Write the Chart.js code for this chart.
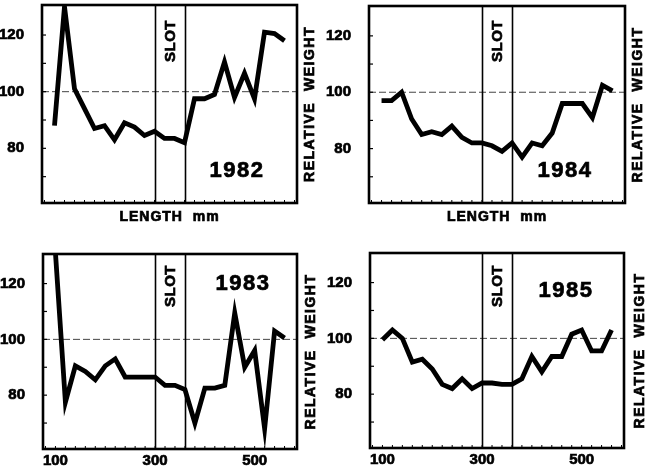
<!DOCTYPE html>
<html>
<head>
<meta charset="utf-8">
<title>Relative weight by length</title>
<script src="https://cdn.jsdelivr.net/npm/chart.js@4.4.1/dist/chart.umd.min.js"></script>
<style>
  html, body { margin: 0; padding: 0; background: #fff; }
  #page { position: relative; width: 647px; height: 468px; overflow: hidden; }
  .panel { position: absolute; }
</style>
</head>
<body>
<div id="page">
  <div class="panel" style="left:0;top:0;width:323px;height:232px"><canvas id="c1982"></canvas></div>
  <div class="panel" style="left:323px;top:0;width:324px;height:232px"><canvas id="c1984"></canvas></div>
  <div class="panel" style="left:0;top:234px;width:323px;height:234px"><canvas id="c1983"></canvas></div>
  <div class="panel" style="left:323px;top:234px;width:324px;height:234px"><canvas id="c1985"></canvas></div>
</div>
<script>
// Length classes (mm), one point every 20 mm
const lengths = [100, 120, 140, 160, 180, 200, 220, 240, 260, 280, 300, 320,
                 340, 360, 380, 400, 420, 440, 460, 480, 500, 520, 540, 560];

// Relative weight per length class
const weight1982 = [88, 130, 101, 94, 87, 88, 83, 89, 87.5, 84.5, 86, 83.5,
                    83.5, 82, 97.5, 97.5, 99, 110.5, 98, 106.5, 97.5, 121, 120.5, 118];
const weight1984 = [97, 97, 100, 90.5, 85, 86, 85, 88, 84, 82, 82, 81,
                    79, 82, 77, 82, 81, 85.5, 96, 96, 96, 91, 102.5, 100.5];
const weight1983 = [131, 77.5, 90.5, 88.5, 85.5, 90.5, 93, 86.5, 86.5, 86.5, 86.5, 83.5,
                    83.5, 82, 70, 82.5, 82.5, 83.5, 109.5, 90, 96, 68, 103, 100.5];
const weight1985 = [99.5, 103, 100, 91.5, 92.5, 89, 83.5, 82, 85.5, 82, 84, 84,
                    83.5, 83.5, 85.5, 93.5, 88, 93.5, 93.5, 101.5, 103, 95.5, 95.5, 103];

// Slot limit (mm) and axis ticks
const slotRange = [300, 360];
const referenceWeight = 100;
const yLabelTicks = [80, 100, 120];
const yMarkTicks = [70, 80, 90, 100, 110, 120];
const xLabelTicks = [100, 300, 500];
const xMarkTicks = [80, 100, 120, 140, 160, 180, 200, 220, 240, 260, 280, 300, 320,
                    340, 360, 380, 400, 420, 440, 460, 480, 500, 520, 540, 560, 580];

const FONT = "'Liberation Sans', Arial, Helvetica, sans-serif";

// bold text with a hairline stroke so it looks like the printed lettering
function heavyText(ctx, text, x, y) {
  ctx.lineWidth = 0.7;
  ctx.strokeStyle = "#000";
  ctx.strokeText(text, x, y);
  ctx.fillText(text, x, y);
}

// frame, inward ticks, 100 line, slot band and all the lettering
const panelDecor = {
  id: "panelDecor",
  beforeDatasetsDraw(chart, args, opts) {
    const { ctx, chartArea: a, scales: { x, y } } = chart;
    ctx.save();

    const yRef = y.getPixelForValue(referenceWeight);
    ctx.strokeStyle = "#444";
    ctx.lineWidth = 1;
    ctx.setLineDash([7, 3]);
    ctx.beginPath();
    ctx.moveTo(a.left, yRef);
    ctx.lineTo(a.right, yRef);
    ctx.stroke();
    ctx.setLineDash([]);

    ctx.strokeStyle = "#000";
    ctx.lineWidth = 1.6;
    slotRange.forEach(v => {
      const px = Math.round(x.getPixelForValue(v)) + 0.5;
      ctx.beginPath();
      ctx.moveTo(px, a.top);
      ctx.lineTo(px, a.bottom);
      ctx.stroke();
    });

    const cx = (x.getPixelForValue(slotRange[0]) + x.getPixelForValue(slotRange[1])) / 2;
    ctx.translate(cx, a.top + opts.slotBottom);
    ctx.rotate(-Math.PI / 2);
    ctx.fillStyle = "#000";
    ctx.font = "bold 15px " + FONT;
    ctx.letterSpacing = "0.5px";
    ctx.textAlign = "left";
    ctx.textBaseline = "middle";
    heavyText(ctx, "SLOT", 0, 1);
    ctx.restore();
  },
  afterDatasetsDraw(chart, args, opts) {
    const { ctx, chartArea: a, scales: { x, y } } = chart;
    ctx.save();
    ctx.strokeStyle = "#000";

    ctx.lineWidth = 1.2;
    yMarkTicks.forEach(v => {
      const py = y.getPixelForValue(v);
      ctx.beginPath();
      ctx.moveTo(a.left, py);
      ctx.lineTo(a.left + 4, py);
      ctx.stroke();
    });
    ctx.lineWidth = 1;
    xMarkTicks.forEach(v => {
      const px = x.getPixelForValue(v);
      ctx.beginPath();
      ctx.moveTo(px, a.bottom);
      ctx.lineTo(px, a.bottom - 3);
      ctx.stroke();
    });

    ctx.lineWidth = 2.6;
    ctx.strokeRect(a.left, a.top, a.right - a.left, a.bottom - a.top);

    ctx.fillStyle = "#000";
    ctx.textAlign = "center";
    ctx.textBaseline = "middle";

    ctx.font = "bold 22px " + FONT;
    ctx.letterSpacing = "1.5px";
    const yy = opts.yearFromTop ? a.top + opts.yearOffset : a.bottom - opts.yearOffset;
    heavyText(ctx, opts.year, a.right - opts.yearRight, yy);

    if (opts.lengthTitle) {
      ctx.font = "bold 14px " + FONT;
      ctx.letterSpacing = "1px";
      heavyText(ctx, "LENGTH  mm", (a.left + a.right) / 2, a.bottom + 14);
    }

    ctx.save();
    ctx.translate(a.right + opts.titleGap, (a.top + a.bottom) / 2);
    ctx.rotate(-Math.PI / 2);
    ctx.font = "bold 14px " + FONT;
    ctx.letterSpacing = "1.5px";
    heavyText(ctx, "RELATIVE  WEIGHT", 0, 0);
    ctx.restore();

    ctx.restore();
  }
};

function makePanel(id, values, area, deco) {
  const canvas = document.getElementById(id);
  const w = canvas.parentNode.clientWidth;
  const h = canvas.parentNode.clientHeight;
  const tickFont = { family: FONT, size: 15, weight: "bold" };

  return new Chart(canvas, {
    type: "line",
    data: {
      datasets: [{
        data: lengths.map((len, i) => ({ x: len, y: values[i] })),
        borderColor: "#000",
        borderWidth: 4.8,
        borderJoinStyle: "miter",
        pointRadius: 0,
        tension: 0,
        clip: 0
      }]
    },
    options: {
      responsive: true,
      maintainAspectRatio: false,
      animation: false,
      events: [],
      layout: { padding: { left: 0, top: area.top, right: w - area.right, bottom: 0 } },
      plugins: {
        legend: { display: false },
        tooltip: { enabled: false },
        panelDecor: deco
      },
      scales: {
        x: {
          type: "linear",
          min: 75,
          max: 585,
          afterFit: s => {
            s.height = h - area.bottom;
            s.paddingLeft = 0;
            s.paddingRight = 0;
          },
          afterBuildTicks: s => { s.ticks = xLabelTicks.map(v => ({ value: v })); },
          grid: { display: false },
          border: { display: false },
          ticks: {
            display: deco.xLabels,
            color: "#000",
            font: tickFont,
            textStrokeColor: "#000",
            textStrokeWidth: 0.7,
            padding: -5,
            maxRotation: 0,
            autoSkip: false
          }
        },
        y: {
          min: 60.7,
          max: 130.6,
          afterFit: s => {
            s.width = area.left;
            s.paddingTop = 0;
            s.paddingBottom = 0;
          },
          afterBuildTicks: s => { s.ticks = yLabelTicks.map(v => ({ value: v })); },
          grid: { display: false },
          border: { display: false },
          ticks: {
            color: "#000",
            font: tickFont,
            textStrokeColor: "#000",
            textStrokeWidth: 0.7,
            padding: 10
          }
        }
      }
    },
    plugins: [panelDecor]
  });
}

makePanel("c1982", weight1982, { left: 42, top: 5, right: 297, bottom: 203 },
  { year: "1982", yearFromTop: false, yearOffset: 32, yearRight: 60, slotBottom: 57,
    lengthTitle: true, xLabels: false, titleGap: 13.5 });
makePanel("c1984", weight1984, { left: 46, top: 6, right: 302, bottom: 203 },
  { year: "1984", yearFromTop: false, yearOffset: 32, yearRight: 60, slotBottom: 56,
    lengthTitle: true, xLabels: false, titleGap: 13.5 });
makePanel("c1983", weight1983, { left: 43, top: 20, right: 297, bottom: 215 },
  { year: "1983", yearFromTop: true, yearOffset: 30, yearRight: 54, slotBottom: 53,
    lengthTitle: false, xLabels: true, titleGap: 14.5 });
makePanel("c1985", weight1985, { left: 47, top: 19, right: 301, bottom: 214 },
  { year: "1985", yearFromTop: true, yearOffset: 38, yearRight: 58, slotBottom: 54,
    lengthTitle: false, xLabels: true, titleGap: 16 });
</script>
</body>
</html>
